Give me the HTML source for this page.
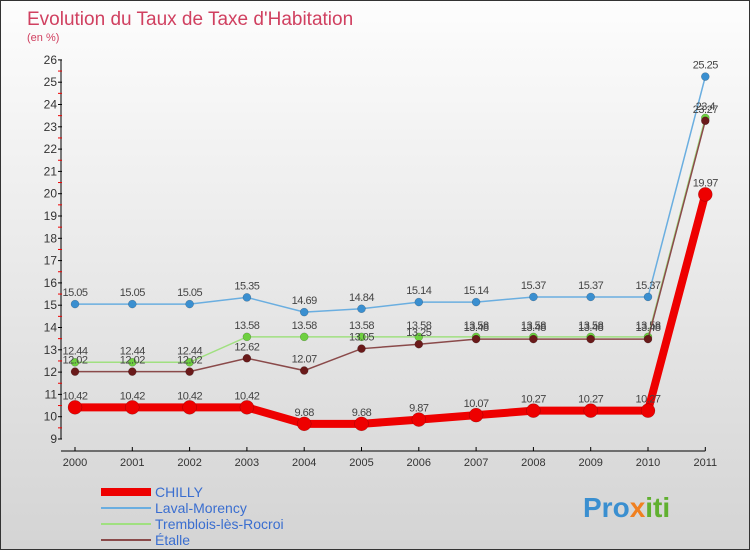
<!DOCTYPE html>
<html><head><meta charset="utf-8"><style>
body{margin:0}
#c{width:748px;height:548px;border:1px solid #333;background:linear-gradient(#fdfdfd,#d4d4d4);position:relative;font-family:"Liberation Sans",sans-serif;overflow:hidden}
text{font-family:"Liberation Sans",sans-serif}
</style></head><body>
<div id="c">
<svg id="s" width="748" height="548">
<text x="26" y="24" font-size="19" fill="#d04060">Evolution du Taux de Taxe d'Habitation</text>
<text x="26" y="40" font-size="11" fill="#d04060">(en %)</text>
<g id="axes"></g><g id="series"></g><g id="legend"></g>
<text x="582" y="516" font-size="28" font-weight="bold" fill="#3a8fd0">Pro<tspan fill="#f08020">x</tspan><tspan fill="#60b030">iti</tspan></text>
</svg></div>
<script>
const years=["2000","2001","2002","2003","2004","2005","2006","2007","2008","2009","2010","2011"];
const chilly=[10.42,10.42,10.42,10.42,9.68,9.68,9.87,10.07,10.27,10.27,10.27,19.97];
const laval=[15.05,15.05,15.05,15.35,14.69,14.84,15.14,15.14,15.37,15.37,15.37,25.25];
const tremblois=[12.44,12.44,12.44,13.58,13.58,13.58,13.58,13.58,13.58,13.58,13.58,23.4];
const etalle=[12.02,12.02,12.02,12.62,12.07,13.05,13.25,13.48,13.48,13.48,13.48,23.27];
const yTicks=[9,10,11,12,13,14,15,16,17,18,19,20,21,22,23,24,25,26];
const NS="http://www.w3.org/2000/svg";
function X(i){return 74+i*57.3}
function Y(v){return 438-(v-9)*22.3}
function mk(p,t,a){const e=document.createElementNS(NS,t);for(const k in a)e.setAttribute(k,a[k]);p.appendChild(e);return e}
const ax=document.getElementById('axes');
let l=mk(ax,'line',{x1:60,y1:Y(26),x2:60,y2:Y(9)+0,stroke:'#000'});

l=mk(ax,'line',{x1:60,y1:450,x2:X(11),y2:450,stroke:'#000'});

yTicks.forEach(v=>{mk(ax,'line',{x1:57,x2:61,y1:Y(v),y2:Y(v),stroke:'#000'});
 if(v<26)mk(ax,'line',{x1:57,x2:61,y1:Y(v+0.5),y2:Y(v+0.5),stroke:'#e00'});
 const t=mk(ax,'text',{x:56,y:Y(v)+4,'font-size':12,'text-anchor':'end',fill:'#333'});t.textContent=v;
 });
years.forEach((y,i)=>{mk(ax,'line',{x1:X(i),x2:X(i),y1:446,y2:450,stroke:'#000'});
 const t=mk(ax,'text',{x:X(i),y:465,'font-size':11,'text-anchor':'middle',fill:'#333'});t.textContent=y;
 });
const sg=document.getElementById('series');
function draw(d,col,lw,r,name,lcol){
 const g=mk(sg,'g',{});
 mk(g,'polyline',{points:d.map((v,i)=>X(i)+','+Y(v)).join(' '),fill:'none',stroke:lcol,'stroke-width':lw});
 d.forEach((v,i)=>{const c=mk(g,'circle',{cx:X(i),cy:Y(v),r:r,fill:col,stroke:'rgba(0,0,0,.3)','stroke-width':.5});
  
  const t=mk(g,'text',{x:X(i),y:Y(v)-8,'font-size':11,'text-anchor':'middle',fill:'#444','letter-spacing':'-0.5'});t.textContent=v;
  });
}
draw(laval,'#3a8fd0',1.5,4,'series-laval-morency','#6aaee0');
draw(tremblois,'#6ed040',1.5,4,'series-tremblois','#a0e080');
draw(etalle,'#6a1a1a',1.5,4,'series-etalle','#8a4a4a');
draw(chilly,'#ee0000',8,7,'series-chilly','#ee0000');
const lg=document.getElementById('legend');
[["CHILLY","#ee0000",8],["Laval-Morency","#6aaee0",2],["Tremblois-lès-Rocroi","#a0e080",2],["Étalle","#8a4a4a",2]].forEach((e,i)=>{
 const g=mk(lg,'g',{});
 const y=491+i*16;mk(g,'line',{x1:100,x2:150,y1:y,y2:y,stroke:e[1],'stroke-width':e[2]});
 const t=mk(g,'text',{x:154,y:y+5,'font-size':14,fill:'#3a6ed0'});t.textContent=e[0];});
</script>
</body></html>
